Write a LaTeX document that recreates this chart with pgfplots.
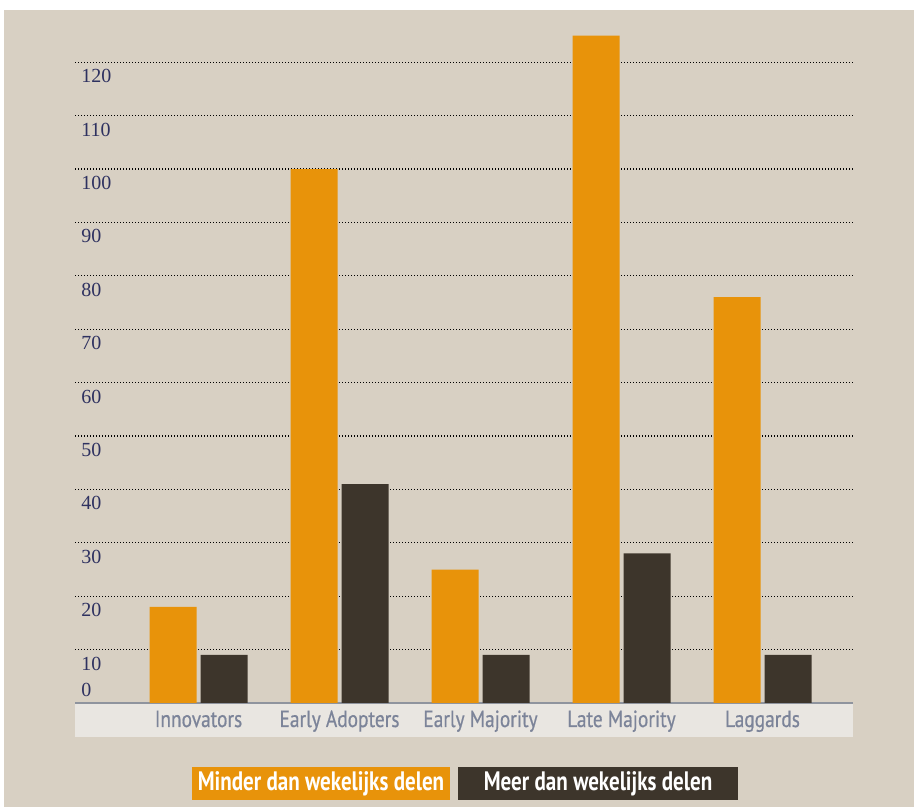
\documentclass[border=0pt]{standalone}
\usepackage{pgfplots}
\pgfplotsset{compat=1.18}
\usepackage{fontspec}
\setmainfont{Liberation Serif}
\newfontfamily\catfont[FakeStretch=0.83, FakeBold=0.6]{PT Sans}
\newfontfamily\legfont[FakeStretch=0.79]{PT Sans}

\definecolor{paper}{HTML}{D8D0C3}
\definecolor{band}{HTML}{E9E6E1}
\definecolor{barorange}{HTML}{E8930A}
\definecolor{bardark}{HTML}{3D352B}
\definecolor{catlabel}{HTML}{7C8499}
\definecolor{numlabel}{HTML}{2E3160}
\definecolor{baseline}{HTML}{8F949E}

\begin{document}
\begin{tikzpicture}[x=1pt,y=1pt]
% page and paper background
\fill[white] (0,0) rectangle (685.5,605.25);
\fill[paper] (3,0) rectangle (685.5,597.75);
% light band behind the category names
\fill[band] (56.25,52.5) rectangle (639.75,78);
\begin{axis}[
  at={(56.25pt,78pt)}, anchor=south west,
  scale only axis, width=583.5pt, height=512.6pt,
  xmin=-0.8759, xmax=4.6418, ymin=0, ymax=128,
  ybar=3pt, bar width=35.25pt,
  xtick={0,...,4},
  xticklabels={Innovators, Early Adopters, Early Majority, Late Majority, Laggards},
  ytick={10,20,...,120},
  extra y ticks={0},
  extra y tick style={ymajorgrids=false, yticklabel style={yshift=20.25pt}},
  major tick length=0pt,
  ymajorgrids,
  major grid style={black, line width=0.9pt, dash pattern=on 0.75pt off 1.5pt},
  axis x line*=bottom, axis y line*=left,
  y axis line style={draw=none},
  x axis line style={draw=baseline, line width=1pt, -},
  /pgf/number format/assume math mode=true,
  xticklabel style={font=\catfont\fontsize{17.5}{17.5}\selectfont, text=catlabel,
    anchor=base, yshift=-18pt},
  yticklabel style={font=\fontsize{15}{15}\selectfont, text=numlabel,
    anchor=west, inner sep=0pt, xshift=4.5pt, yshift=-10.5pt},
]
\addplot[fill=barorange, draw=none] coordinates {(0,18) (1,100) (2,25) (3,125) (4,76)};
\addplot[fill=bardark, draw=none] coordinates {(0,9) (1,41) (2,9) (3,28) (4,9)};
\end{axis}
% legend
\node[fill=barorange, text=white, minimum width=193.5pt, minimum height=24.75pt,
  inner sep=0pt, font=\legfont\bfseries\fontsize{20}{20}\selectfont]
  at (240.75,17.6) {Minder dan wekelijks delen};
\node[fill=bardark, text=white, minimum width=210pt, minimum height=24.75pt,
  inner sep=0pt, font=\legfont\bfseries\fontsize{20}{20}\selectfont]
  at (448.5,17.6) {Meer dan wekelijks delen};
\pgfresetboundingbox
\path (0,0) rectangle (685.5,605.25);
\end{tikzpicture}
\end{document}
